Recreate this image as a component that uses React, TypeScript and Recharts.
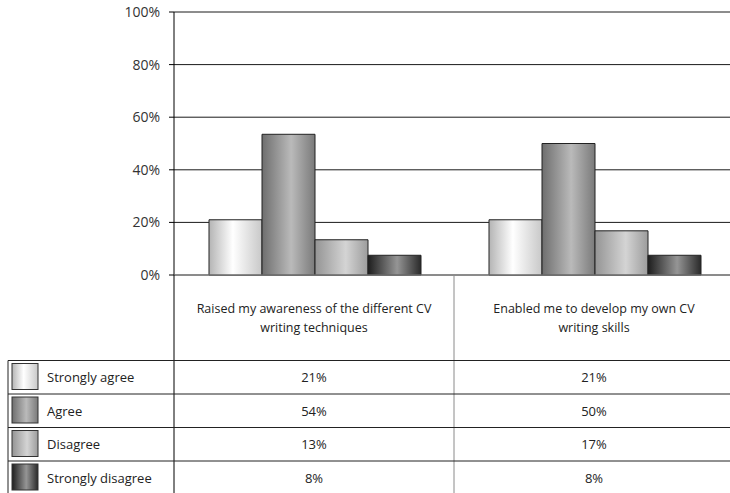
import { BarChart, Bar, XAxis, YAxis, CartesianGrid } from 'recharts';

const categories = [
  'Raised my awareness of the different CV writing techniques',
  'Enabled me to develop my own CV writing skills',
];
const categoryLines = [
  ['Raised my awareness of the different CV', 'writing techniques'],
  ['Enabled me to develop my own CV', 'writing skills'],
];
const seriesNames = ['Strongly agree', 'Agree', 'Disagree', 'Strongly disagree'];
const stronglyAgree = [21, 21];
const agree = [53.5, 50];
const disagree = [13.4, 16.8];
const stronglyDisagree = [7.5, 7.5];
const yTicks = [0, 20, 40, 60, 80, 100];

const seriesValues = [stronglyAgree, agree, disagree, stronglyDisagree];
const seriesKeys = ['sa', 'a', 'd', 'sd'];

const data = categories.map((name, i) => ({
  name,
  sa: stronglyAgree[i],
  a: agree[i],
  d: disagree[i],
  sd: stronglyDisagree[i],
}));

// horizontal cylinder shading for each series: [edge, highlight, edge, highlight offset]
const shades: [string, string, string, string][] = [
  ['#b4b4b4', '#ffffff', '#c8c8c8', '45%'],
  ['#6e6e6e', '#bababa', '#7a7a7a', '55%'],
  ['#949494', '#d4d4d4', '#9c9c9c', '58%'],
  ['#1e1e1e', '#959595', '#2a2a2a', '55%'],
];

const CHART_W = 740;
const CHART_H = 493;
const MARGIN = { top: 12, right: 6, left: 0, bottom: 0 };
const Y_AXIS_W = 174;
const X_AXIS_H = 218;
const PLOT_LEFT = MARGIN.left + Y_AXIS_W;
const PLOT_RIGHT = CHART_W - MARGIN.right;
const BAND = (PLOT_RIGHT - PLOT_LEFT) / categories.length;
const FONT = '"Open Sans", "Noto Sans", sans-serif';

// table rows (offsets below the category axis line)
const HEADER_H = 85.5;
const ROW_H = 33.5;

function Gradients({ prefix }: { prefix: string }) {
  return (
    <defs>
      {shades.map(([a, b, c, off], i) => (
        <linearGradient key={i} id={`${prefix}${i}`} x1="0" y1="0" x2="1" y2="0">
          <stop offset="0%" stopColor={a} />
          <stop offset={off} stopColor={b} />
          <stop offset="100%" stopColor={c} />
        </linearGradient>
      ))}
    </defs>
  );
}

function CategoryTick(props: any) {
  const { x, y, payload } = props;
  const idx = payload.index ?? categories.indexOf(payload.value);
  const lines = categoryLines[idx] || [payload.value];
  return (
    <g>
      <line x1={x + BAND / 2} y1={y} x2={x + BAND / 2} y2={CHART_H} stroke="#8a8a8a" />
      {lines.map((l, k) => (
        <text key={k} x={x} y={y + 33 + k * 19} textAnchor="middle" dominantBaseline="central"
          fontSize={12.5} fontFamily={FONT} fill="#222">{l}</text>
      ))}
      {seriesValues.map((vals, r) => (
        <text key={r} x={x} y={y + HEADER_H + ROW_H * r + ROW_H / 2} textAnchor="middle"
          dominantBaseline="central" fontSize={13} fontFamily={FONT} fill="#222">
          {Math.round(vals[idx])}%
        </text>
      ))}
    </g>
  );
}

export default function App() {
  const axisY = CHART_H - MARGIN.bottom - X_AXIS_H;
  const tableTop = axisY + HEADER_H;
  return (
    <div style={{ position: 'absolute', left: 0, top: 0, width: 730, height: 493, overflow: 'hidden', background: '#fff' }}>
      <BarChart width={CHART_W} height={CHART_H} data={data} margin={MARGIN}
        barCategoryGap="12.5%" barGap={0}>
        <Gradients prefix="bar" />
        <CartesianGrid vertical={false} stroke="#1a1a1a" />
        <YAxis domain={[0, 100]} ticks={yTicks} width={Y_AXIS_W} interval={0}
          tickFormatter={(v) => `${v}%`} axisLine={{ stroke: '#000' }}
          tickLine={{ stroke: '#000' }} tickSize={5} tickMargin={9}
          tick={{ fontSize: 14, fontFamily: FONT, fill: '#333' }} />
        <XAxis dataKey="name" height={X_AXIS_H} axisLine={{ stroke: '#8a8a8a' }}
          tickLine={false} tickSize={0} tickMargin={0} interval={0} tick={<CategoryTick />} />
        {seriesKeys.map((k, i) => (
          <Bar key={k} dataKey={k} name={seriesNames[i]} fill={`url(#bar${i})`}
            stroke="#222" strokeWidth={1} isAnimationActive={false} />
        ))}
      </BarChart>
      <svg width={730} height={493} style={{ position: 'absolute', left: 0, top: 0, pointerEvents: 'none' }}>
        <Gradients prefix="key" />
        <line x1={PLOT_LEFT} y1={axisY} x2={PLOT_LEFT} y2={CHART_H} stroke="#000" />
        <line x1={8} y1={tableTop} x2={8} y2={CHART_H} stroke="#222" />
        {seriesNames.map((name, r) => {
          const top = tableTop + ROW_H * r;
          return (
            <g key={name}>
              <line x1={8} y1={top} x2={730} y2={top} stroke="#222" />
              <rect x={12} y={top + 3} width={26} height={26} fill={`url(#key${r})`} stroke="#333" />
              <text x={47} y={top + ROW_H / 2} dominantBaseline="central" fontSize={13}
                fontFamily={FONT} fill="#222">{name}</text>
            </g>
          );
        })}
      </svg>
    </div>
  );
}
